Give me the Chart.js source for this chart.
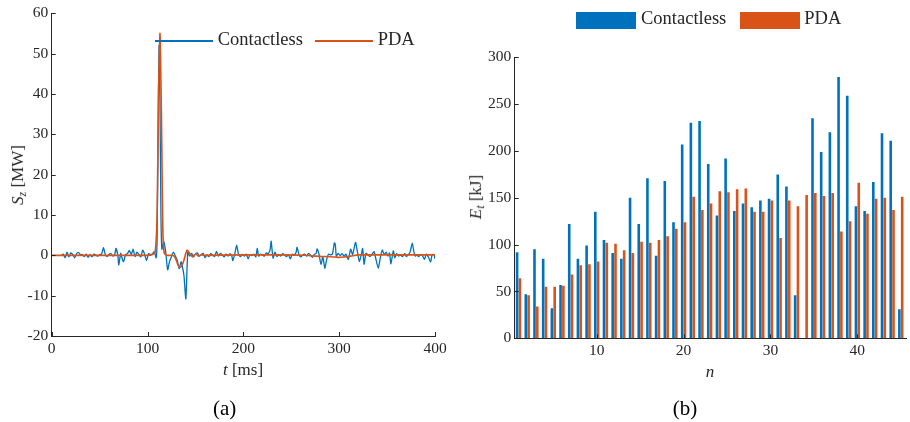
<!DOCTYPE html>
<html>
<head>
<meta charset="utf-8">
<script src="https://cdn.jsdelivr.net/npm/chart.js@4"></script>
<style>
  body { margin: 0; background: #fff; }
  #page { position: relative; width: 910px; height: 422px; overflow: hidden; font-family: "Liberation Serif", serif; color: #262626; }
  canvas { position: absolute; top: 0; }
  .txt { position: absolute; white-space: nowrap; line-height: 1; }
  .sw { position: absolute; }
  sub { font-size: 70%; vertical-align: -0.25em; }
</style>
</head>
<body>
<div id="page">
  <canvas id="lineChart" width="455" height="422" style="left:0"></canvas>
  <canvas id="barChart" width="455" height="422" style="left:455px"></canvas>

  <!-- legend (a) -->
  <div class="sw" style="left:155px;top:39.7px;width:58px;height:2px;background:#0072BD"></div>
  <div class="txt" style="left:217.7px;top:30.2px;font-size:18.5px">Contactless</div>
  <div class="sw" style="left:315px;top:39.7px;width:58px;height:2px;background:#D95319"></div>
  <div class="txt" style="left:377.7px;top:30.2px;font-size:18.5px">PDA</div>

  <!-- legend (b) -->
  <div class="sw" style="left:576px;top:12px;width:60px;height:17px;background:#0072BD"></div>
  <div class="txt" style="left:641px;top:8.8px;font-size:18.5px">Contactless</div>
  <div class="sw" style="left:740px;top:12px;width:60px;height:17px;background:#D95319"></div>
  <div class="txt" style="left:804.3px;top:8.8px;font-size:18.5px">PDA</div>

  <!-- axis titles -->
  <div class="txt" style="left:19px;top:175px;font-size:17px;transform:translate(-50%,-50%) rotate(-90deg)"><i>S</i><sub><i>z</i></sub> [MW]</div>
  <div class="txt" style="left:243px;top:369px;font-size:17px;transform:translate(-50%,-50%)"><i>t</i> [ms]</div>
  <div class="txt" style="left:477px;top:197px;font-size:17px;transform:translate(-50%,-50%) rotate(-90deg)"><i>E</i><sub><i>t</i></sub> [kJ]</div>
  <div class="txt" style="left:710px;top:371px;font-size:17px;transform:translate(-50%,-50%)"><i>n</i></div>

  <!-- captions -->
  <div class="txt" style="left:224.7px;top:408px;font-size:21px;color:#000;transform:translate(-50%,-50%)">(a)</div>
  <div class="txt" style="left:685px;top:408px;font-size:21px;color:#000;transform:translate(-50%,-50%)">(b)</div>
</div>

<script>
// (a) Poynting flux, time in ms, values in MW
const contactlessT = [
  10, 12, 14, 16, 18, 20, 22, 24, 26, 28, 30, 32, 34, 36, 38, 40, 42, 44, 46, 48, 50, 52,
  54, 56, 58, 60, 62, 64, 66, 67, 69, 70, 72, 73, 75, 77, 79, 81, 83, 85, 87, 89, 91, 93, 95, 97, 99, 101, 103, 105, 107, 109,
  110, 111, 112, 113, 114, 115, 117, 119, 121, 123, 125, 127, 129, 131, 133, 135, 136, 138, 140, 142, 144, 146, 148,
  150, 152, 154, 156, 158, 160, 162, 164, 166, 168, 170, 172, 174, 176, 178, 180, 182, 184, 186, 188, 189, 191, 193, 195,
  197, 199, 201, 203, 205, 207, 209, 211, 213, 214.5, 216, 218, 220, 222, 224, 226, 228, 229, 231, 233, 235, 237, 239, 241, 243,
  245, 247, 249, 251, 253, 255, 256, 258, 260, 262, 264, 266, 268, 270, 272, 274, 276, 277, 279, 281, 283, 285, 287, 289, 291,
  293, 295, 296, 297, 299,
  301, 303, 305, 307, 309.5, 312, 314, 317, 319, 321, 323, 324.5, 326, 328, 330, 332, 334, 336.5, 338, 340.8,
  343, 345, 347, 349, 351, 352.5, 354, 356.5, 358, 360, 362, 364, 366, 368.5, 370, 372, 374, 376.3, 378, 379.5,
  381, 383, 385, 387, 389, 391, 393, 395.5, 397, 399, 400
];
const contactlessS = [
  0, 0.3, -0.6, 0.8, -0.4, 0.6, 0.2, -0.6, 0.4, 0.7, 0.1, 0.2, -0.3, 0.3, -0.5, 0.2, -0.4, 0.3, 0.1, -0.2, 0.2, 0.3,
  1.9, 0.1, -0.3, 0.3, 0.4, -0.2, 0.4, 1.7, 0.1, -2.4, 0.5, -0.4, -1.6, 0.2, 0.4, 1.2, 0.2, 1.5, -0.3, 0.8, 0.2, -0.4, 1.3, 0.2, -1.3, 0.4, 0.2, 0.3, 0.9, -0.6,
  4, 30, 52, 38, 10, 1.5, 3.4, 0.8, -3.6, -1.5, -0.3, 0.8, -0.2, -1.2, -3.3, -1.6, -2.4, -5, -10.8, 0.8, -0.2, 0.5, -0.4,
  0.3, 0.6, -0.2, 0.2, 0.5, -0.6, 0.2, -0.3, 0.4, 0.1, -0.3, 1.0, -0.2, 0.5, 0.1, -0.4, 0.3, -0.2, 0.4, -0.2, -1.3, 0.3, 2.5, 0.2,
  -0.3, 0.2, -0.2, 0.3, -0.9, 0.2, -0.1, 0.3, -0.4, 1.7, -0.2, 0.3, 0.1, -0.2, 0.6, 0.4, 1.5, 3.5, -0.7, 0.8, -0.3, 0.2, -0.2, 0.4, 0.1,
  -0.3, 0.2, -0.9, 0.3, 0.1, 0.7, 2.0, 0.2, -0.4, 0.1, 0.3, -0.2, 0.5, 0.1, -0.5, 0.2, 0.5, 1.6, 0.2, -2.2, -0.4, -3.2, -1.0, 0.3, 0.1,
  0.4, 3.1, 2.6, -0.2, 0.5,
  -0.1, 0.4, -0.2, 0.3, -1.0, 1.5, 0.2, 3.2, 0.9, -1.5, 0.1, 1.7, -2.2, 0.5, 0.1, -0.3, 0.2, 0.9, -0.6, -3.2,
  -0.5, 1.3, 0.2, 0.8, -0.2, 0.6, -2.1, 1.1, -0.6, 0.4, -0.2, 0.1, -0.3, 0.5, -0.3, 0.1, 0.8, 3.0, 0.8, -0.2,
  0.1, -0.3, 0.2, -0.1, -1.0, 0.3, -0.4, -1.6, 0.2, 0.2, -0.9
];
const pdaT = [
  0, 100, 105, 108, 110, 111.5, 113, 114.5, 116, 117.5, 120, 126, 128, 130, 132, 134, 136, 138, 140, 141.5,
  143, 145, 147, 149, 151, 153, 156, 160, 200, 240, 265, 275, 285, 295, 300, 305, 312, 320, 340, 370, 400
];
const pdaS = [
  0, 0, 0.2, 0.8, 10, 40, 55, 35, 6, 0.5, 0, 0, -0.3, -1.2, -2.5, -3, -2.5, -1.2, 0.5, 1.3,
  0.8, 0.2, -0.4, 0.1, 0.3, -0.2, 0.1, 0, 0.1, 0.1, 0, -0.2, -0.3, -0.4, -0.5, -0.4, -0.2, 0.1, 0.1, 0.1, 0.1
];
const lineXTicks = [0, 100, 200, 300, 400];
const lineYTicks = [-20, -10, 0, 10, 20, 30, 40, 50, 60];

// (b) energy per pulse n, kJ
const pulseN = [1, 2, 3, 4, 5, 6, 7, 8, 9, 10, 11, 12, 13, 14, 15, 16, 17, 18, 19, 20, 21, 22, 23,
  24, 25, 26, 27, 28, 29, 30, 31, 32, 33, 34, 35, 36, 37, 38, 39, 40, 41, 42, 43, 44, 45];
const contactlessE = [92, 47, 95, 85, 32, 57, 122, 85, 99, 135, 105, 91, 85, 150, 122, 171, 88, 168, 124, 207, 230, 232, 186,
  131, 192, 136, 144, 140, 147, 149, 175, 162, 46, null, 235, 199, 220, 279, 259, 141, 136, 167, 219, 211, 31];
const pdaE = [64, 46, 34, 55, 55, 56, 68, 78, 79, 82, 102, 101, 94, 91, 103, 102, 105, 109, 117, 124, 151, 137, 144,
  157, 156, 159, 160, 135, 135, 147, 107, 147, 141, 153, 155, 152, 155, 114, 125, 166, 133, 149, 150, 137, 151];
const barXTicks = [10, 20, 30, 40];
const barYTicks = [0, 50, 100, 150, 200, 250, 300];

const BLUE = "#0072BD";
const ORANGE = "#D95319";
const AXIS = "#262626";
const tickFont = { family: "'Liberation Serif', serif", size: 15.5 };

/* inward tick marks, MATLAB style */
const inwardTicks = {
  id: "inwardTicks",
  afterDraw(chart) {
    const { ctx, chartArea } = chart;
    const x = chart.scales.x;
    const y = chart.scales.y;
    ctx.save();
    ctx.strokeStyle = AXIS;
    ctx.lineWidth = 1;
    x.ticks.forEach((t) => {
      const p = Math.round(x.getPixelForValue(t.value)) + 0.5;
      ctx.beginPath();
      ctx.moveTo(p, chartArea.bottom);
      ctx.lineTo(p, chartArea.bottom - 4);
      ctx.stroke();
    });
    y.ticks.forEach((t) => {
      const p = Math.round(y.getPixelForValue(t.value)) + 0.5;
      ctx.beginPath();
      ctx.moveTo(chartArea.left, p);
      ctx.lineTo(chartArea.left + 4, p);
      ctx.stroke();
    });
    ctx.restore();
  }
};

function axisOpts(min, max, tickValues, fitSize, horizontal, pad) {
  return {
    type: "linear",
    min: min,
    max: max,
    offset: false,
    grid: { display: false, drawTicks: false },
    border: { display: true, color: AXIS, width: 1 },
    ticks: { color: AXIS, font: tickFont, padding: pad, maxRotation: 0 },
    afterBuildTicks: (scale) => {
      scale.ticks = tickValues.map((v) => ({ value: v }));
    },
    afterFit: (scale) => {
      if (horizontal) scale.height = fitSize;
      else scale.width = fitSize;
    }
  };
}

/* LINE CHART (a) */

new Chart(document.getElementById("lineChart"), {
  type: "line",
  data: {
    datasets: [
      {
        label: "Contactless",
        data: contactlessT.map((t, i) => ({ x: t, y: contactlessS[i] })),
        borderColor: BLUE,
        borderWidth: 1.3,
        pointRadius: 0,
        tension: 0.2,
        order: 2
      },
      {
        label: "PDA",
        data: pdaT.map((t, i) => ({ x: t, y: pdaS[i] })),
        borderColor: ORANGE,
        borderWidth: 1.6,
        pointRadius: 0,
        tension: 0.2,
        order: 1
      }
    ]
  },
  options: {
    responsive: false,
    animation: false,
    devicePixelRatio: 1,
    events: [],
    layout: { padding: { left: 0, right: 20, top: 13.3, bottom: 0 } },
    plugins: { legend: { display: false }, tooltip: { enabled: false } },
    scales: {
      x: axisOpts(0, 400, lineXTicks, 86, true, 4),
      y: axisOpts(-20, 60, lineYTicks, 51.7, false, 3.5)
    }
  },
  plugins: [inwardTicks]
});

/* BAR CHART (b) */

new Chart(document.getElementById("barChart"), {
  type: "bar",
  data: {
    datasets: [
      {
        label: "Contactless",
        data: pulseN.map((n, i) => ({ x: n, y: contactlessE[i] })),
        backgroundColor: BLUE,
        borderWidth: 0,
        categoryPercentage: 0.65,
        barPercentage: 0.92
      },
      {
        label: "PDA",
        data: pulseN.map((n, i) => ({ x: n, y: pdaE[i] })),
        backgroundColor: ORANGE,
        borderWidth: 0,
        categoryPercentage: 0.65,
        barPercentage: 0.92
      }
    ]
  },
  options: {
    responsive: false,
    animation: false,
    devicePixelRatio: 1,
    events: [],
    layout: { padding: { left: 0, right: 4, top: 57.3, bottom: 0 } },
    plugins: { legend: { display: false }, tooltip: { enabled: false } },
    scales: {
      x: axisOpts(0.56, 45.6, barXTicks, 83.7, true, 3),
      y: axisOpts(0, 300, barYTicks, 59.7, false, 3.5)
    }
  },
  plugins: [inwardTicks]
});
</script>
</body>
</html>
